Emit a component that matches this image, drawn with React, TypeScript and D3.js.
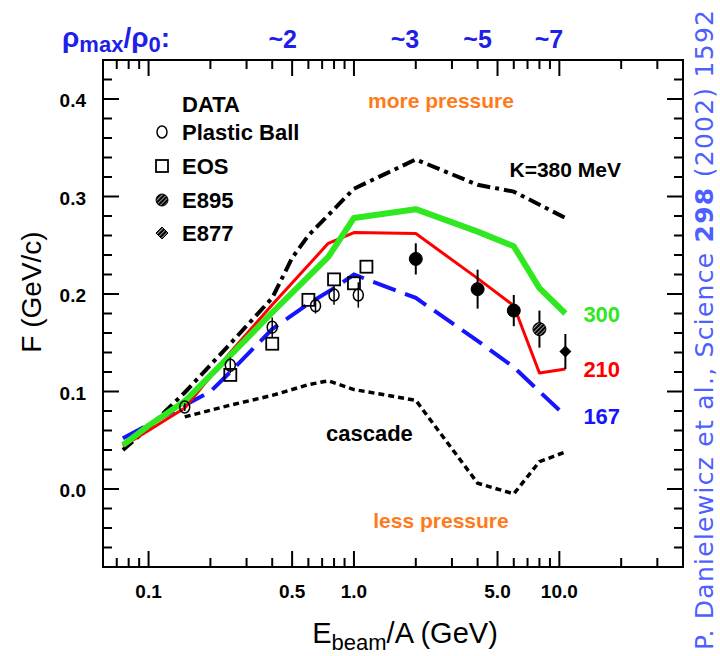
import React from "react";
import * as d3 from "d3";

const WIDTH = 720;
const HEIGHT = 656;
const FRAME = { left: 103, right: 683, top: 60, bottom: 567 };

// Axis ticks: beam energy per nucleon (GeV, log) and flow F (GeV/c)
const xMajorTicks = [0.1, 0.5, 1, 5, 10];
const xTickLabels = ["0.1", "0.5", "1.0", "5.0", "10.0"];
const xMinorTicks = [0.07, 0.08, 0.09, 0.2, 0.3, 0.4, 0.6, 0.7, 0.8, 0.9, 2, 3, 4, 6, 7, 8, 9, 20, 30];
const yMajorTicks = [0, 0.1, 0.2, 0.3, 0.4];
const yTickLabels = ["0.0", "0.1", "0.2", "0.3", "0.4"];
const yMinorTicks = [-0.06, -0.04, -0.02, 0.02, 0.04, 0.06, 0.08, 0.12, 0.14, 0.16, 0.18, 0.22, 0.24, 0.26, 0.28, 0.32, 0.34, 0.36, 0.38, 0.42];

// Maximum compression reached at a given beam energy
const densityEnergy = [0.45, 1.77, 4.0, 8.9];
const densityLabels = ["~2", "~3", "~5", "~7"];

// Transport-model curves (F vs beam energy)
const k380Energy = [0.075, 0.1, 0.15, 0.25, 0.4, 0.5, 0.6, 1.0, 2, 4, 6, 10.7];
const k380F = [0.04, 0.063, 0.099, 0.149, 0.196, 0.237, 0.26, 0.308, 0.338, 0.312, 0.305, 0.278];

const k300Energy = [0.075, 0.1, 0.15, 0.25, 0.4, 0.75, 1.0, 2, 4, 6, 8, 10.7];
const k300F = [0.045, 0.065, 0.09, 0.137, 0.181, 0.238, 0.278, 0.287, 0.264, 0.249, 0.206, 0.18];

const k210Energy = [0.075, 0.1, 0.15, 0.25, 0.4, 0.75, 1.0, 2, 4, 6, 8, 10.7];
const k210F = [0.044, 0.06, 0.083, 0.14, 0.189, 0.252, 0.263, 0.262, 0.216, 0.188, 0.119, 0.123];

const k167Energy = [0.075, 0.15, 0.2, 0.25, 0.4, 0.6, 0.8, 1.0, 2, 4, 6, 8, 10.7];
const k167F = [0.052, 0.086, 0.1, 0.12, 0.164, 0.19, 0.206, 0.22, 0.196, 0.152, 0.125, 0.1, 0.075];

const cascadeEnergy = [0.15, 0.25, 0.4, 0.6, 0.75, 1.0, 2, 4, 6, 8, 10.7];
const cascadeF = [0.074, 0.086, 0.096, 0.107, 0.111, 0.102, 0.091, 0.006, -0.005, 0.028, 0.038];

// Measurements
const plasticBallEnergy = [0.15, 0.25, 0.4, 0.65, 0.8, 1.05];
const plasticBallF = [0.084, 0.127, 0.166, 0.188, 0.199, 0.199];
const plasticBallErr = [0.004, 0.008, 0.01, 0.008, 0.01, 0.013];

const eosEnergy = [0.25, 0.4, 0.6, 0.8, 1.0, 1.15];
const eosF = [0.117, 0.149, 0.194, 0.215, 0.211, 0.228];

const e895Energy = [2, 4, 6, 8];
const e895F = [0.236, 0.205, 0.183, 0.164];
const e895Err = [0.016, 0.02, 0.016, 0.019];

const e877Energy = [10.7];
const e877F = [0.141];
const e877Err = [0.018];

const legendLabels = ["Plastic Ball", "EOS", "E895", "E877"];

const SANS = "'Liberation Sans', Arial, Helvetica, sans-serif";
const GREEN = "#2fe81f";
const RED = "#ff0000";
const BLUE = "#1414ff";
const ORANGE = "#ff7a1a";
const RHO_BLUE = "#1f1fe8";
const CITE_BLUE = "#4d5fff";

export default function App() {
  const x = d3.scaleLog().domain([0.06, 40]).range([FRAME.left, FRAME.right]);
  const y = d3.scaleLinear().domain([-0.08, 0.44]).range([FRAME.bottom, FRAME.top]);

  const path = (es: number[], fs: number[]) =>
    d3.line<number>().x((_, i) => x(es[i])).y((f) => y(f))(fs) || "";

  const MAJ = 16;
  const MIN = 9;

  const xTick = (v: number, len: number, key: string) => (
    <g key={key}>
      <line x1={x(v)} x2={x(v)} y1={FRAME.bottom} y2={FRAME.bottom - len} stroke="#000" strokeWidth={2} />
      <line x1={x(v)} x2={x(v)} y1={FRAME.top} y2={FRAME.top + len} stroke="#000" strokeWidth={2} />
    </g>
  );
  const yTick = (v: number, len: number, key: string) => (
    <g key={key}>
      <line x1={FRAME.left} x2={FRAME.left + len} y1={y(v)} y2={y(v)} stroke="#000" strokeWidth={2} />
      <line x1={FRAME.right} x2={FRAME.right - len} y1={y(v)} y2={y(v)} stroke="#000" strokeWidth={2} />
    </g>
  );

  const lastX = x(10.7) + 18;
  const endY = (fs: number[]) => y(fs[fs.length - 1]) + 8;

  return (
    <svg
      width={WIDTH}
      height={HEIGHT}
      viewBox={`0 0 ${WIDTH} ${HEIGHT}`}
      style={{ position: "absolute", left: 0, top: 0, background: "#fff" }}
      fontFamily={SANS}
    >
      <defs>
        <pattern id="hatch" patternUnits="userSpaceOnUse" width={3} height={3} patternTransform="rotate(45)">
          <rect width={3} height={3} fill="#000" />
          <line x1={0} y1={0} x2={0} y2={3} stroke="#fff" strokeWidth={1.2} />
        </pattern>
      </defs>
      <rect width={WIDTH} height={HEIGHT} fill="#fff" />

      {/* density scale along the top */}
      <text x={62} y={47} fill={RHO_BLUE} fontSize={28} fontWeight="bold">
        ρ<tspan fontSize={22} dy={5}>max</tspan>
        <tspan dy={-5}>/ρ</tspan>
        <tspan fontSize={22} dy={5}>0</tspan>
        <tspan dy={-5}>:</tspan>
      </text>
      {densityEnergy.map((e, i) => (
        <text key={i} x={x(e)} y={48} textAnchor="middle" fill={RHO_BLUE} fontSize={25} fontWeight="bold">
          {densityLabels[i]}
        </text>
      ))}

      {/* frame and ticks */}
      <rect
        x={FRAME.left}
        y={FRAME.top}
        width={FRAME.right - FRAME.left}
        height={FRAME.bottom - FRAME.top}
        fill="none"
        stroke="#000"
        strokeWidth={2}
      />
      {xMajorTicks.map((v) => xTick(v, MAJ, "xM" + v))}
      {xMinorTicks.map((v) => xTick(v, MIN, "xm" + v))}
      {yMajorTicks.map((v) => yTick(v, MAJ, "yM" + v))}
      {yMinorTicks.map((v) => yTick(v, MIN, "ym" + v))}

      {xMajorTicks.map((v, i) => (
        <text key={"xl" + i} x={x(v)} y={598} textAnchor="middle" fontSize={19} fontWeight="bold">
          {xTickLabels[i]}
        </text>
      ))}
      {yMajorTicks.map((v, i) => (
        <text key={"yl" + i} x={86} y={y(v) + 8} textAnchor="end" fontSize={19} fontWeight="bold">
          {yTickLabels[i]}
        </text>
      ))}

      {/* axis titles */}
      <text x={405} y={643} textAnchor="middle" fontSize={29}>
        E<tspan fontSize={22} dy={7}>beam</tspan>
        <tspan dy={-7}>/A (GeV)</tspan>
      </text>
      <text transform="translate(41,292) rotate(-90)" textAnchor="middle" fontSize={28}>
        F (GeV/c)
      </text>

      {/* model curves */}
      <path d={path(cascadeEnergy, cascadeF)} fill="none" stroke="#000" strokeWidth={3.5} strokeDasharray="6 4" />
      <path d={path(k380Energy, k380F)} fill="none" stroke="#000" strokeWidth={4} strokeDasharray="13 5 4 5" />
      <path d={path(k167Energy, k167F)} fill="none" stroke={BLUE} strokeWidth={4} strokeDasharray="24 10" />
      <path d={path(k210Energy, k210F)} fill="none" stroke={RED} strokeWidth={3} strokeLinejoin="round" />
      <path d={path(k300Energy, k300F)} fill="none" stroke={GREEN} strokeWidth={6} strokeLinejoin="round" />

      {/* Plastic Ball */}
      {plasticBallEnergy.map((e, i) => (
        <g key={"pb" + i} stroke="#000" strokeWidth={1.5} fill="none">
          <line x1={x(e)} x2={x(e)} y1={y(plasticBallF[i] - plasticBallErr[i])} y2={y(plasticBallF[i] + plasticBallErr[i])} />
          <ellipse cx={x(e)} cy={y(plasticBallF[i])} rx={5} ry={6} />
        </g>
      ))}
      {/* EOS */}
      {eosEnergy.map((e, i) => (
        <rect
          key={"eos" + i}
          x={x(e) - 6}
          y={y(eosF[i]) - 6}
          width={12}
          height={12}
          fill="none"
          stroke="#000"
          strokeWidth={1.8}
        />
      ))}
      {/* E895 */}
      {e895Energy.map((e, i) => (
        <g key={"e895" + i}>
          <line x1={x(e)} x2={x(e)} y1={y(e895F[i] - e895Err[i])} y2={y(e895F[i] + e895Err[i])} stroke="#000" strokeWidth={2} />
          <circle
            cx={x(e)}
            cy={y(e895F[i])}
            r={6.5}
            fill={i === e895Energy.length - 1 ? "url(#hatch)" : "#000"}
            stroke="#000"
            strokeWidth={1}
          />
        </g>
      ))}
      {/* E877 */}
      {e877Energy.map((e, i) => (
        <g key={"e877" + i}>
          <line x1={x(e)} x2={x(e)} y1={y(e877F[i] - e877Err[i])} y2={y(e877F[i] + e877Err[i])} stroke="#000" strokeWidth={2} />
          <path
            d={`M${x(e)},${y(e877F[i]) - 6}L${x(e) + 6},${y(e877F[i])}L${x(e)},${y(e877F[i]) + 6}L${x(e) - 6},${y(e877F[i])}Z`}
            fill="#000"
          />
        </g>
      ))}

      {/* curve labels */}
      <text x={lastX} y={endY(k300F)} fill={GREEN} fontSize={22} fontWeight="bold">300</text>
      <text x={lastX} y={endY(k210F)} fill={RED} fontSize={22} fontWeight="bold">210</text>
      <text x={lastX} y={endY(k167F)} fill={BLUE} fontSize={22} fontWeight="bold">167</text>
      <text x={621} y={177} textAnchor="end" fontSize={21} fontWeight="bold">K=380 MeV</text>
      <text x={326} y={441} fontSize={22} fontWeight="bold">cascade</text>
      <text x={441} y={108} textAnchor="middle" fill={ORANGE} fontSize={21} fontWeight="bold">more pressure</text>
      <text x={441} y={528} textAnchor="middle" fill={ORANGE} fontSize={21} fontWeight="bold">less pressure</text>

      {/* legend */}
      <text x={182} y={112} fontSize={22} fontWeight="bold">DATA</text>
      <ellipse cx={162} cy={132} rx={5} ry={6} fill="none" stroke="#000" strokeWidth={1.5} />
      <rect x={156} y={160} width={12} height={12} fill="none" stroke="#000" strokeWidth={1.8} />
      <circle cx={162} cy={200} r={6} fill="url(#hatch)" stroke="#000" strokeWidth={1} />
      <path d="M162,227L168,233L162,239L156,233Z" fill="url(#hatch)" stroke="#000" strokeWidth={1} />
      {legendLabels.map((t, i) => (
        <text key={t} x={182} y={[140, 174, 208, 241][i]} fontSize={22} fontWeight="bold">
          {t}
        </text>
      ))}

      {/* citation */}
      <text
        transform="translate(713,650) rotate(-90)"
        fill={CITE_BLUE}
        fontSize={25}
        fontFamily="'DejaVu Sans', Verdana, sans-serif"
        textLength={640}
        lengthAdjust="spacing"
      >
        P. Danielewicz et al., Science <tspan fontWeight="bold">298</tspan> (2002) 1592
      </text>
    </svg>
  );
}
